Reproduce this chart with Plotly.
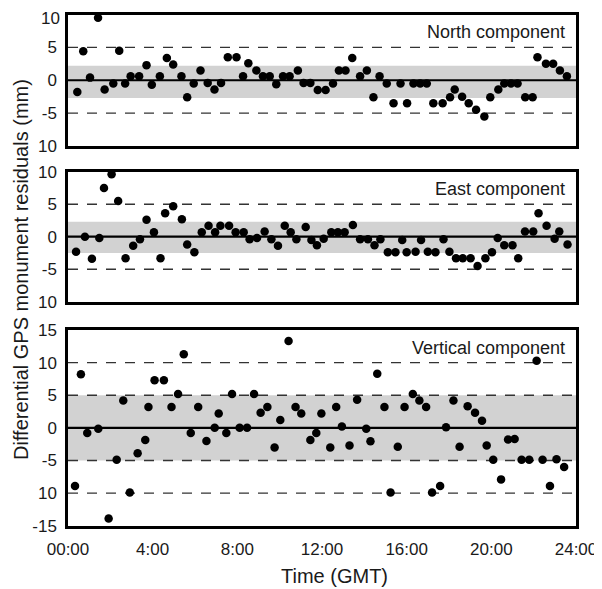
import plotly.graph_objects as go

# ---------------- data ----------------
north_t = [0.44, 0.72, 1.04, 1.42, 1.73, 2.14, 2.42, 2.70, 2.96, 3.36, 3.71, 3.96,
           4.34, 4.67, 4.97, 5.36, 5.63, 5.94, 6.26, 6.60, 6.92, 7.23, 7.55, 7.96,
           8.27, 8.52, 8.90, 9.21, 9.53, 9.84, 10.16, 10.47, 10.86, 11.13, 11.45, 11.80,
           12.17, 12.52, 12.80, 13.11, 13.43, 13.80, 14.12, 14.43, 14.72, 15.06, 15.38, 15.71,
           16.02, 16.32, 16.64, 16.95, 17.26, 17.70, 18.05, 18.27, 18.62, 18.93, 19.28, 19.67,
           19.95, 20.33, 20.61, 20.93, 21.24, 21.60, 21.95, 22.18, 22.58, 22.92, 23.24, 23.57]
north_v = [-1.8, 4.4, 0.4, 9.5, -1.4, -0.5, 4.5, -0.5, 0.6, 0.6, 2.3, -0.7,
           0.6, 3.4, 2.4, 0.6, -2.6, -0.5, 1.5, -0.4, -1.4, -0.4, 3.5, 3.5,
           0.6, 2.6, 1.5, 0.6, 0.6, -0.6, 0.6, 0.6, 1.5, -0.4, -0.4, -1.5,
           -1.5, -0.5, 1.5, 1.5, 3.4, 0.6, 1.5, -2.6, 0.6, -0.5, -3.5, -0.5,
           -3.5, -0.5, -0.5, -0.5, -3.5, -3.5, -2.6, -1.4, -2.5, -3.5, -4.5, -5.5,
           -2.6, -1.4, -0.5, -0.5, -0.5, -2.6, -2.6, 3.5, 2.5, 2.5, 1.5, 0.6]

east_t = [0.38, 0.80, 1.13, 1.48, 1.70, 2.06, 2.37, 2.72, 3.08, 3.40, 3.71, 4.06,
          4.37, 4.59, 4.97, 5.38, 5.63, 5.97, 6.32, 6.64, 6.95, 7.20, 7.61, 7.92,
          8.30, 8.58, 8.93, 9.29, 9.61, 9.92, 10.24, 10.52, 10.79, 11.23, 11.50, 11.76,
          12.08, 12.44, 12.75, 13.07, 13.46, 13.80, 14.17, 14.48, 14.76, 15.11, 15.47, 15.79,
          16.00, 16.42, 16.68, 17.00, 17.36, 17.74, 18.02, 18.33, 18.65, 19.02, 19.35, 19.72,
          20.03, 20.30, 20.61, 21.00, 21.27, 21.59, 21.98, 22.23, 22.61, 22.99, 23.21, 23.60]
east_v = [-2.3, 0.0, -3.4, -0.2, 7.5, 9.6, 5.5, -3.3, -1.4, -0.4, 2.6, 0.7,
          -3.3, 3.6, 4.7, 2.7, -1.2, -2.4, 0.7, 1.7, 0.7, 1.7, 1.7, 0.7,
          0.7, -0.4, -0.2, 0.8, -0.4, -1.4, 1.7, 0.7, -0.4, 1.5, -0.5, -1.3,
          -0.3, 0.7, 0.7, 0.7, 1.8, -0.4, -0.4, -1.3, -0.4, -2.4, -2.4, -0.5,
          -2.4, -2.3, -0.5, -2.3, -2.4, -0.4, -2.3, -3.3, -3.3, -3.3, -4.5, -3.3,
          -2.4, -0.2, -1.3, -1.3, -3.3, 0.8, 0.8, 3.6, 1.7, -0.3, 0.8, -1.2]

vert_t = [0.33, 0.61, 0.91, 1.43, 1.92, 2.30, 2.61, 2.92, 3.29, 3.65, 3.80, 4.09,
          4.53, 4.89, 5.20, 5.47, 5.80, 6.15, 6.54, 6.93, 7.12, 7.48, 7.75, 8.11,
          8.46, 8.79, 9.10, 9.42, 9.76, 10.03, 10.42, 10.75, 11.02, 11.45, 11.73, 11.97,
          12.39, 12.67, 12.94, 13.30, 13.66, 14.09, 14.29, 14.61, 14.95, 15.24, 15.58, 15.90,
          16.29, 16.60, 16.92, 17.20, 17.58, 17.86, 18.21, 18.50, 18.88, 19.23, 19.56, 19.78,
          20.09, 20.46, 20.79, 21.10, 21.43, 21.79, 22.14, 22.42, 22.77, 23.08, 23.44]
vert_v = [-8.9, 8.2, -0.8, -0.15, -13.9, -4.9, 4.2, -9.9, -3.9, -1.85, 3.2, 7.3,
          7.3, 3.2, 5.2, 11.3, -0.8, 3.2, -2.0, 0.0, 2.2, -0.8, 5.2, 0.0,
          0.0, 5.2, 2.3, 3.2, -3.0, 1.2, 13.3, 3.2, 2.2, -1.85, -0.8, 2.2,
          -3.0, 3.2, 0.2, -2.7, 4.3, -0.15, -2.05, 8.3, 3.2, -9.9, -2.9, 3.2,
          5.2, 4.2, 3.2, -9.9, -8.9, 0.1, 4.2, -2.9, 3.3, 2.3, 1.1, -2.7,
          -4.9, -7.9, -1.8, -1.7, -4.9, -4.9, 10.3, -4.9, -8.9, -4.8, -6.0]

panel_names = ["North component", "East component", "Vertical component"]
band_low = [-2.7, -2.5, -5.0]
band_high = [2.2, 2.3, 5.0]
dash_levels = [[-5, 5], [-5, 5], [-10, -5, 5, 10]]

n_tickvals = [-10, -5, 0, 5]          # top "10" of the first panel is placed as a label below
n_ticktext = ["10", "-5", "0", "5"]
n_top_label = "10"
e_tickvals = [-10, -5, 0, 5, 10]
e_ticktext = ["10", "-5", "0", "5", "10"]
v_tickvals = [-15, -10, -5, 0, 5, 10, 15]
v_ticktext = ["-15", "10", "-5", "0", "5", "10", "15"]
x_tickvals = [0, 4, 8, 12, 16, 20, 24]
x_ticktext = ["00:00", "4:00", "8:00", "12:00", "16:00", "20:00", "24:00"]

# ---------------- figure ----------------
# the page body has an 8px default margin, so the figure is drawn 8px in
OX, OY = 8, 8
W, H = 602 - OX, 589 - OY
FONT = "Liberation Sans, Arial, Helvetica, sans-serif"
TXT = "#1a1a1a"


def px(x):
    return (x - OX) / W


def py(y):
    return 1 - (y - OY) / H


xdom = [px(68), px(576)]
ydoms = [[py(146), py(14.5)],
         [py(301.7), py(171.7)],
         [py(525.7), py(330)]]
yranges = [[-10, 10], [-10, 10], [-15, 15]]
label_y = [py(20), py(177), py(336)]
tickvals_all = [n_tickvals, e_tickvals, v_tickvals]
ticktext_all = [n_ticktext, e_ticktext, v_ticktext]

fig = go.Figure()
series = [(north_t, north_v), (east_t, east_v), (vert_t, vert_v)]
for i, (t, v) in enumerate(series):
    sfx = "" if i == 0 else str(i + 1)
    fig.add_trace(go.Scatter(
        x=t, y=v, mode="markers", xaxis="x" + sfx, yaxis="y" + sfx,
        marker=dict(color="black", size=8.5, line=dict(width=0)),
        showlegend=False, cliponaxis=False, hoverinfo="skip"))

shapes = []
annotations = []
layout_axes = {}
for i in range(3):
    sfx = "" if i == 0 else str(i + 1)
    xname = "x" + sfx
    yname = "y" + sfx
    # grey band
    shapes.append(dict(type="rect", xref=xname + " domain", yref=yname,
                       x0=0, x1=1, y0=band_low[i], y1=band_high[i],
                       fillcolor="rgb(210,210,210)", line=dict(width=0), layer="below"))
    # dashed lines
    for lv in dash_levels[i]:
        shapes.append(dict(type="line", xref=xname + " domain", yref=yname,
                           x0=0, x1=1, y0=lv, y1=lv,
                           line=dict(color="#333333", width=1.4, dash="10px,9px"),
                           layer="below"))
    # zero line
    shapes.append(dict(type="line", xref=xname + " domain", yref=yname,
                       x0=0, x1=1, y0=0, y1=0,
                       line=dict(color="black", width=2.2), layer="below"))
    annotations.append(dict(text=panel_names[i], xref="paper", yref="paper",
                            x=px(567), y=label_y[i],
                            xanchor="right", yanchor="top", showarrow=False,
                            font=dict(family=FONT, size=18, color=TXT)))
    layout_axes["xaxis" + sfx] = dict(
        domain=xdom, range=[0, 24], anchor=yname, automargin=False,
        showgrid=False, zeroline=False, showline=True, mirror=True,
        linecolor="black", linewidth=2.5, ticks="",
        tickvals=x_tickvals, ticktext=x_ticktext,
        showticklabels=(i == 2), ticklabelstandoff=6, ticklabeloverflow="allow",
        tickfont=dict(family=FONT, size=17, color=TXT), fixedrange=True)
    layout_axes["yaxis" + sfx] = dict(
        domain=ydoms[i], range=yranges[i], anchor=xname, automargin=False,
        showgrid=False, zeroline=False, showline=True, mirror=True,
        linecolor="black", linewidth=2.5, ticks="",
        tickvals=tickvals_all[i], ticktext=ticktext_all[i],
        ticklabelstandoff=5, ticklabeloverflow="allow",
        tickfont=dict(family=FONT, size=17, color=TXT), fixedrange=True)

# top label of the first panel, nudged to stay inside the page
annotations.append(dict(text=n_top_label, xref="paper", yref="paper",
                        x=px(62), y=py(6.5), xanchor="right", yanchor="top",
                        showarrow=False, font=dict(family=FONT, size=17, color=TXT)))
annotations.append(dict(text="Time (GMT)", xref="paper", yref="paper",
                        x=px(334), y=py(576), xanchor="center", yanchor="middle",
                        showarrow=False, font=dict(family=FONT, size=20, color=TXT)))
annotations.append(dict(text="Differential GPS monument residuals (mm)", xref="paper", yref="paper",
                        x=px(21), y=py(270), xanchor="center", yanchor="middle",
                        textangle=-90, showarrow=False,
                        font=dict(family=FONT, size=20, color=TXT)))

fig.update_layout(
    width=W, height=H,
    margin=dict(l=0, r=0, t=0, b=0, pad=0, autoexpand=False),
    paper_bgcolor="white", plot_bgcolor="white",
    shapes=shapes, annotations=annotations,
    **layout_axes)

fig.write_html("out.html")
